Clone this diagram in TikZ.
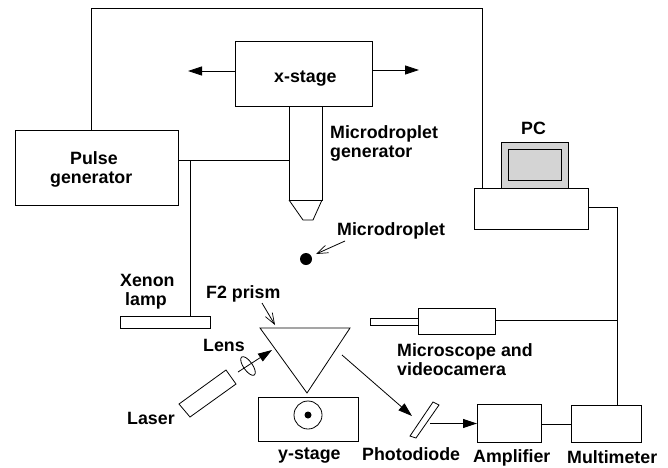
\documentclass[tikz,border=0pt]{standalone}
\usepackage{fontspec}
\setmainfont{Liberation Sans}
\usetikzlibrary{arrows.meta,calc}
\tikzset{
 x=1pt,y=-1pt,
 ln/.style={draw=black,line width=0.8pt},
 box/.style={draw=black,line width=0.8pt,anchor=north west,inner sep=0pt,outer sep=0pt},
 lab/.style={font=\bfseries\fontsize{17.8}{20}\selectfont,inner sep=0pt,anchor=base west,align=left},
 solid tip/.style={-{Triangle[length=14pt,width=9pt]}},
 open tip/.style={-{Straight Barb[length=11pt,width=8pt,line width=0.7pt]}}
}
\newcommand{\bx}[5]{\node[box,minimum width=#4-#2,minimum height=#5-#3] (#1) at (#2,#3) {};}
\begin{document}
\begin{tikzpicture}
\useasboundingbox (0,0) rectangle (668,467);
\fill[white] (0,0) rectangle (668,467);
% boxes
\bx{xstage}{235}{41}{372}{106}
\bx{pulse}{15}{130}{178}{205}
\bx{gen}{289}{106}{322}{200}
\bx{xenon}{120}{316}{210}{328}
\bx{ystage}{258}{397}{358}{441}
\bx{amp}{477}{404}{541}{442}
\bx{multi}{571}{405}{641}{442}
\bx{pcbase}{474}{188}{588}{229}
\node[box,fill=black!17,minimum width=67pt,minimum height=46pt] (monitor) at (501,142) {};
\node[box,fill=black!17,minimum width=53pt,minimum height=31pt] (screen) at (508,149) {};
\bx{scope}{418}{308}{495}{334}
\bx{tube}{370}{318}{418}{325}
% named free ends
\coordinate (topL) at (91.5,8.5);
\coordinate (topR) at (482.5,8.5);
\coordinate (xL) at (188,71);
\coordinate (xLs) at (235,71);
\coordinate (xR) at (419,70);
\coordinate (xRs) at (372,70);
\coordinate (junc) at (190,160);
\coordinate (bus) at (617,320);
\coordinate (busTop) at (617,207);
% wiring
\draw[ln] (topL |- pulse.north) -- (topL) -- (topR) -- (topR |- pcbase.north);
\draw[ln] (pulse.east |- junc) -- (gen.west |- junc);
\draw[ln] (junc) -- (junc |- xenon.north);
\draw[ln] (scope.east |- bus) -- (bus);
\draw[ln] (busTop -| pcbase.east) -- (busTop) -- (busTop |- multi.north);
\draw[ln] (amp.east |- 0,424) -- (multi.west |- 0,424);
\draw[ln,solid tip] (xLs) -- (xL);
\draw[ln,solid tip] (xRs) -- (xR);
% nozzle
\draw[ln] (gen.south west) -- (303,220) -- (313,220) -- (gen.south east);
% droplet
\node[circle,fill=black,minimum size=12pt,inner sep=0pt] (drop) at (306,259) {};
\coordinate (dropA) at (345,241);
\draw[ln,open tip] (dropA) -- (316,254);
% prism
\coordinate (pA) at (260,328);
\coordinate (pB) at (350,328);
\coordinate (pC) at (307,393);
\draw[ln] (pA) -- (pB) -- (pC) -- cycle;
\coordinate (prismA) at (262,303);
\coordinate (prismT) at (275,325);
\draw[ln,open tip] (prismA) -- (prismT);
% laser
\draw[ln] (226,370) -- (236,384) -- (190,417) -- (179,404) -- cycle;
% lens and beam
\coordinate (lensC) at (248,366);
\draw[ln,rotate around={35:(lensC)}] (lensC) ellipse (4.5pt and 11pt);
\coordinate (beamA) at (238,372);
\coordinate (beamT) at (272,350);
\draw[ln,solid tip] (beamA) -- (beamT);
% y-stage target
\node[circle,draw=black,line width=0.8pt,minimum size=28pt,inner sep=0pt] (rot) at (308,415) {};
\node[circle,fill=black,minimum size=7pt,inner sep=0pt] (rotdot) at (rot) {};
% photodiode
\draw[ln] (433,402) -- (439,405) -- (416,438) -- (410,436) -- cycle;
\coordinate (outA) at (342,355);
\coordinate (outT) at (412,416);
\draw[ln,solid tip] (outA) -- (outT);
\coordinate (pdA) at (430,423.5);
\draw[ln,solid tip] (pdA) -- (amp.west |- pdA);
% labels
\node[lab] (t1) at (274,82) {x-stage};
\node[lab] (t2) at (70,164) {Pulse};
\node[lab] (t3) at (50,183) {generator};
\node[lab] (t4) at (330,138) {Microdroplet};
\node[lab] (t5) at (330,157) {generator};
\node[lab] (t6) at (337,235) {Microdroplet};
\node[lab] (t7) at (521,134) {PC};
\node[lab] (t8) at (120,286) {Xenon};
\node[lab] (t9) at (125,305) {lamp};
\node[lab] (t10) at (206,298) {F2 prism};
\node[lab] (t11) at (203,351) {Lens};
\node[lab] (t12) at (127,424) {Laser};
\node[lab] (t13) at (278,459) {y-stage};
\node[lab] (t14) at (397,356) {Microscope and};
\node[lab] (t15) at (397,375) {videocamera};
\node[lab] (t16) at (362,460) {Photodiode};
\node[lab] (t17) at (473,462) {Amplifier};
\node[lab] (t18) at (567,463) {Multimeter};
\end{tikzpicture}
\end{document}
